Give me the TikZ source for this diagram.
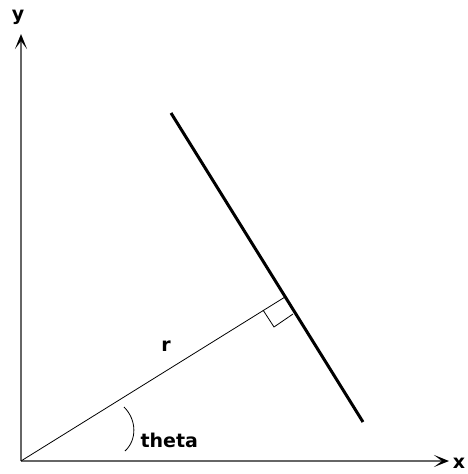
\documentclass[tikz,border=0pt]{standalone}
\usepackage{fontspec}
\setmainfont{DejaVu Sans}
\usetikzlibrary{arrows.meta}
\begin{document}
\begin{tikzpicture}[x=1pt,y=-1pt,font=\fontsize{19}{22}\selectfont\bfseries]
	\useasboundingbox (0,0) rectangle (467,474);

	% Punts
	\coordinate (O) at (21,461);
	\coordinate (Ytop) at (21,34);
	\coordinate (Xend) at (449,461);

	\coordinate (F) at (285,297);
	\coordinate (Ltop) at (171,113);
	\coordinate (Lbot) at (363,422);

	\coordinate (Ra) at (263,310);
	\coordinate (Rc) at (274,327);
	\coordinate (Rb) at (293,314);

	\coordinate (Ta) at (124,407);
	\coordinate (Tb) at (125,451);

	% Eixos
	\draw[gray!80!black,line width=2pt,-{Stealth[black,length=15pt,width=12pt,inset=8pt]}] (O) -- (Ytop);
	\draw[gray!80!black,line width=2pt,-{Stealth[black,length=15pt,width=12pt,inset=8pt]}] (O) -- (Xend);

	% Recta i normal
	\draw[line width=3pt] (Ltop) -- (Lbot);
	\draw[line width=0.8pt] (O) -- (F);

	% Angle recte
	\draw[line width=0.8pt] (Ra) -- (Rc) -- (Rb);

	% Angle theta
	\draw[line width=0.8pt] (Ta) .. controls (137,420) and (137,440) .. (Tb);

	% Etiquetes
	\node (ylab) at (18,17) {y};
	\node (xlab) at (459,463) {x};
	\node (rlab) at (166,346) {r};
	\node[anchor=west] (tlab) at (137,440) {theta};

\end{tikzpicture}
\end{document}
